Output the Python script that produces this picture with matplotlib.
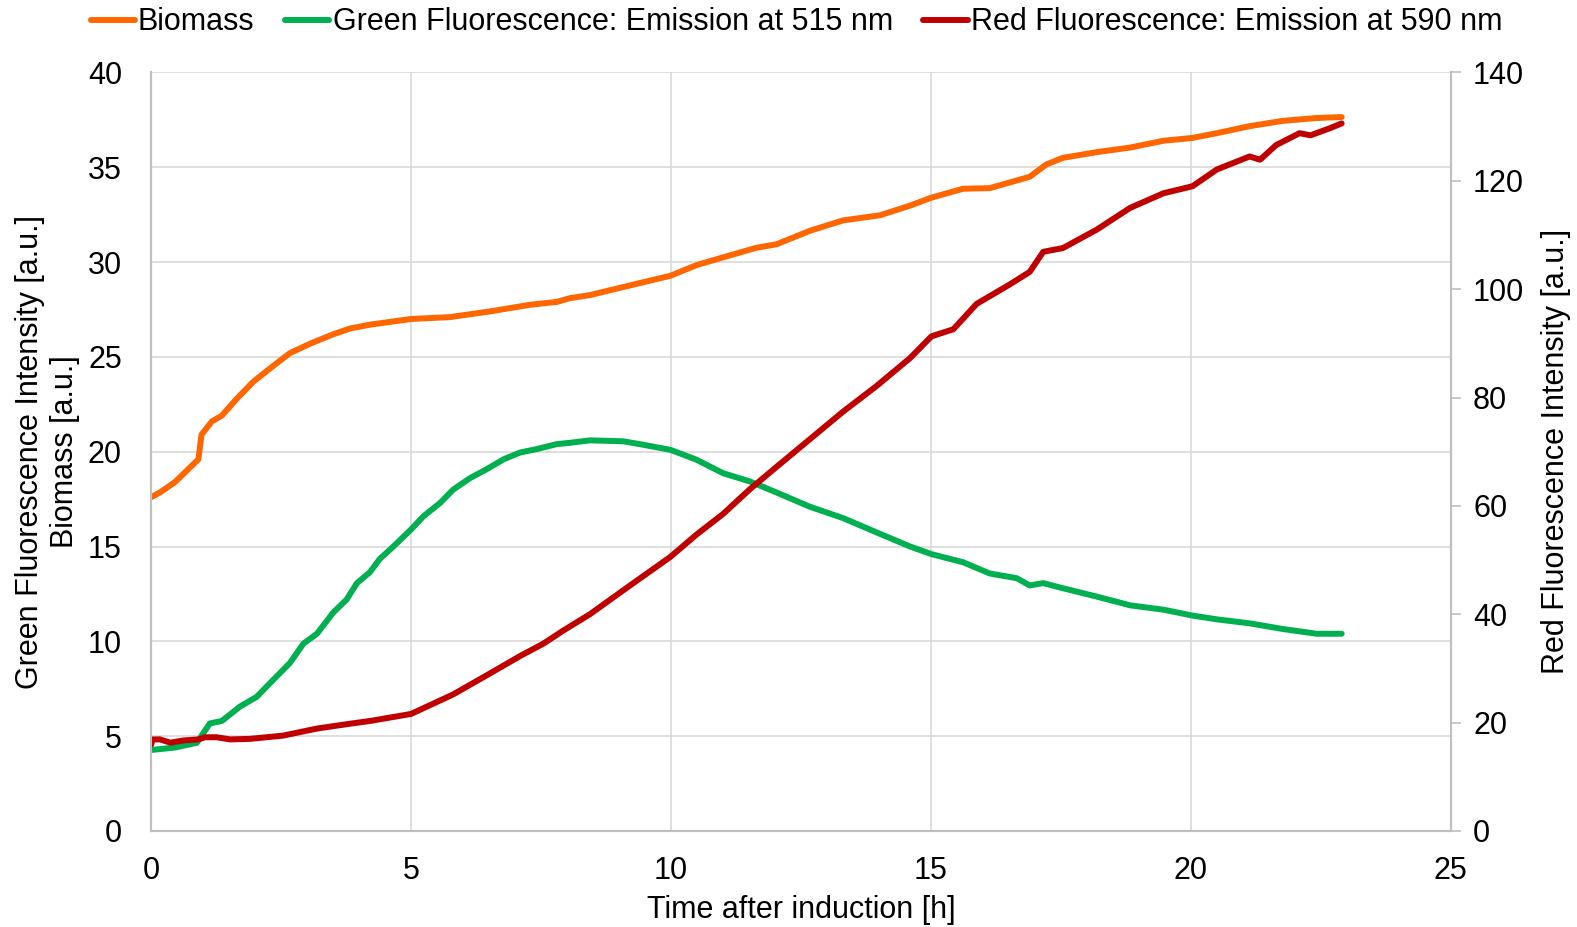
import matplotlib
matplotlib.use("Agg")
import matplotlib.pyplot as plt

plt.rcParams.update({"font.family": ["Liberation Sans", "DejaVu Sans"], "font.size": 22})

ORANGE, GREEN, RED = "#FF6600", "#00B050", "#C00000"
GRID, SPINE, INK = "#D9D9D9", "#BFBFBF", "#000000"

# values (time in h)
biomass_t = [0, 0.17, 0.46, 0.91, 0.97, 1.17, 1.36, 1.65, 1.97, 2.29, 2.67, 3.06, 3.51, 3.83,
             4.21, 5.0, 5.75, 6.52, 7.29, 7.8, 8.06, 8.44, 9.21, 9.99, 10.49, 11.0, 11.65,
             12.03, 12.67, 13.31, 14.02, 14.6, 15.01, 15.62, 16.13, 16.9, 17.22, 17.54, 18.19,
             18.83, 19.47, 20.03, 20.5, 21.13, 21.77, 22.42, 22.9]
biomass = [17.6, 17.85, 18.4, 19.6, 20.9, 21.6, 21.9, 22.8, 23.7, 24.4, 25.2, 25.7, 26.2, 26.5,
           26.7, 27.0, 27.1, 27.4, 27.75, 27.9, 28.1, 28.26, 28.77, 29.28, 29.84, 30.25, 30.76,
           30.94, 31.65, 32.2, 32.47, 32.98, 33.4, 33.87, 33.9, 34.5, 35.15, 35.5, 35.8,
           36.04, 36.4, 36.55, 36.8, 37.17, 37.45, 37.6, 37.65]

green_t = [0, 0.46, 0.88, 1.13, 1.36, 1.71, 2.03, 2.35, 2.67, 2.93, 3.19, 3.51, 3.76, 3.96,
           4.21, 4.4, 4.66, 5.0, 5.24, 5.56, 5.81, 6.13, 6.45, 6.78, 7.1, 7.42, 7.8, 8.06, 8.44,
           9.08, 9.4, 9.99, 10.49, 11.0, 11.52, 12.03, 12.67, 13.31, 13.95, 14.6, 15.01, 15.62,
           16.13, 16.65, 16.9, 17.16, 17.54, 18.19, 18.83, 19.47, 20.03, 20.5, 21.13, 21.77,
           22.42, 22.9]
green = [4.27, 4.4, 4.65, 5.67, 5.8, 6.56, 7.07, 7.97, 8.86, 9.88, 10.4, 11.54, 12.2, 13.07,
         13.65, 14.35, 15.0, 15.9, 16.6, 17.3, 18.0, 18.6, 19.07, 19.6, 19.96, 20.14, 20.4, 20.47,
         20.6, 20.55, 20.4, 20.1, 19.58, 18.87, 18.43, 17.85, 17.1, 16.5, 15.75, 15.0, 14.6,
         14.17, 13.58, 13.33, 12.95, 13.07, 12.8, 12.36, 11.9, 11.67, 11.36, 11.16, 10.95, 10.65,
         10.4, 10.4]

red_t = [0, 0.03, 0.17, 0.37, 0.62, 0.91, 1.04, 1.26, 1.52, 1.9, 2.54, 3.19, 3.83, 4.21, 5.0,
         5.81, 6.45, 7.1, 7.55, 7.93, 8.44, 9.21, 9.99, 10.49, 11.0, 11.52, 12.03, 12.67, 13.31,
         13.95, 14.6, 15.01, 15.43, 15.88, 16.52, 16.9, 17.16, 17.54, 18.19, 18.83, 19.47, 20.03,
         20.5, 21.13, 21.33, 21.64, 22.09, 22.3, 22.67, 22.9]
red = [15.9, 16.9, 16.9, 16.3, 16.7, 16.9, 17.3, 17.3, 16.9, 17.0, 17.6, 18.9, 19.8, 20.3, 21.6,
       25.2, 28.7, 32.3, 34.6, 37.0, 40.0, 45.3, 50.6, 54.7, 58.5, 63.1, 67.2, 72.3, 77.4,
       82.1, 87.3, 91.3, 92.6, 97.3, 100.9, 103.2, 106.9, 107.6, 111.0, 115.0, 117.7, 119.0,
       122.1, 124.5, 123.9, 126.6, 128.8, 128.4, 129.7, 130.6]

fig = plt.figure(figsize=(15.77, 9.27), dpi=100)
ax = fig.add_axes([0.0958, 0.1036, 0.8242, 0.8182])
ax2 = ax.twinx()

lw = 4.3
l1, = ax.plot(biomass_t, biomass, color=ORANGE, lw=lw, solid_capstyle="round",
              solid_joinstyle="round", label="Biomass")
l2, = ax.plot(green_t, green, color=GREEN, lw=lw, solid_capstyle="round",
              solid_joinstyle="round", label="Green Fluorescence: Emission at 515 nm")
l3, = ax2.plot(red_t, red, color=RED, lw=lw, solid_capstyle="round",
               solid_joinstyle="round", label="Red Fluorescence: Emission at 590 nm")

ax.set_xlim(0, 25); ax.set_ylim(0, 40)
ax2.set_ylim(0, 140)
ax.set_xticks(range(0, 26, 5))
ax.set_yticks(range(0, 41, 5))
ax2.set_yticks(range(0, 141, 20))
ax.grid(True, color=GRID, lw=1.2)
ax.set_axisbelow(True)

for a in (ax, ax2):
    for s in a.spines.values():
        s.set_color(SPINE); s.set_linewidth(1.5)
    a.spines["top"].set_visible(False)
ax.tick_params(axis="both", length=0, colors=INK, labelsize=22)
ax.tick_params(axis="y", pad=21)
ax.tick_params(axis="x", pad=18)
ax2.tick_params(axis="y", length=7, width=1.2, color=SPINE, labelsize=22, pad=9, labelcolor=INK)

fig.text(0.0191, 0.5127, "Green Fluorescence Intensity [a.u.]", rotation=90,
         ha="center", va="center", fontsize=22)
fig.text(0.0415, 0.5127, "Biomass [a.u.]", rotation=90, ha="center", va="center", fontsize=22)
fig.text(0.987, 0.5127, "Red Fluorescence Intensity [a.u.]", rotation=90,
         ha="center", va="center", fontsize=22)
fig.text(0.508, 0.0184, "Time after induction [h]", ha="center", va="center", fontsize=22)

fig.legend(handles=[l1, l2, l3], loc="center", bbox_to_anchor=(0.505, 0.976), ncol=3,
           frameon=False, fontsize=22, handlelength=1.45, handletextpad=0.1,
           columnspacing=1.0, borderpad=0, borderaxespad=0)

fig.savefig("out.png", dpi=100)
